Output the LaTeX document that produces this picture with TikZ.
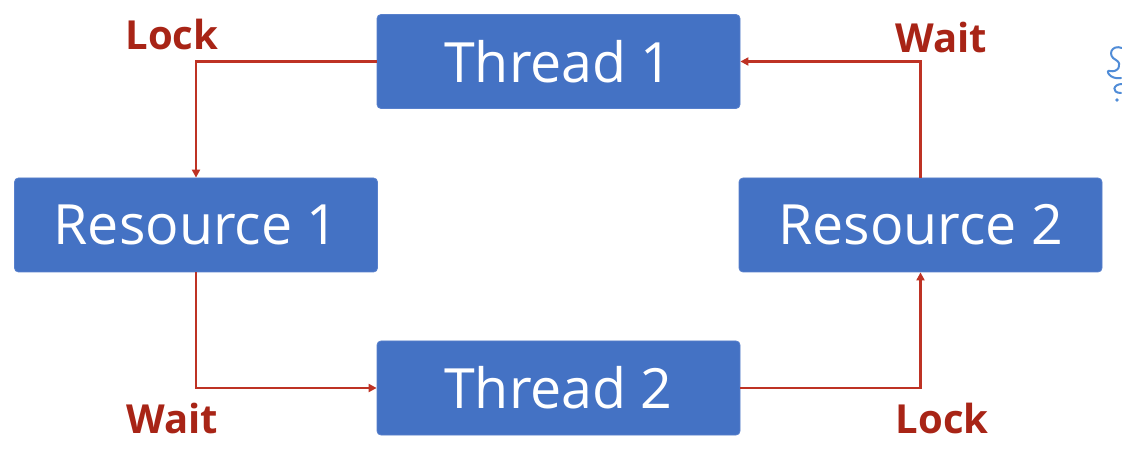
\documentclass[tikz,border=0pt]{standalone}
\usepackage{fontspec}
\setmainfont{Open Sans}
\usetikzlibrary{arrows.meta}
\definecolor{boxblue}{RGB}{68,114,196}
\definecolor{boxedge}{RGB}{88,128,204}
\definecolor{linkred}{RGB}{190,50,36}
\definecolor{tagred}{RGB}{168,36,22}
\definecolor{penblue}{RGB}{80,140,215}
\begin{document}
\begin{tikzpicture}[x=1pt,y=-1pt,
  block/.style={rectangle,rounded corners=4pt,fill=boxblue,draw=boxedge,line width=0.8pt,
    minimum width=363pt,minimum height=94pt,inner sep=0pt,
    text=white,font=\fontsize{55.5}{66}\selectfont},
  link/.style={draw=linkred,line width=2.2pt,-{Triangle[length=8pt,width=8pt]}},
  tag/.style={text=tagred,font=\fontsize{40}{48}\selectfont\bfseries,inner sep=0pt,anchor=base}]
  \useasboundingbox (0,0) rectangle (1122,454);
  \fill[white] (0,0) rectangle (1122,454);

  % thread and resource blocks
  \node[block] (t1) at (558.5,61.5) {Thread 1};
  \node[block] (r1) at (196,225) {Resource 1};
  \node[block] (r2) at (920.5,225) {Resource 2};
  \node[block] (t2) at (558.5,388) {Thread 2};

  % lock / wait cycle
  \draw[link] (t1.west) -| (r1.north);
  \draw[link] (r1.south) |- (t2.west);
  \draw[link] (t2.east) -| (r2.south);
  \draw[link] (r2.north) |- (t1.east);

  % edge labels
  \node[tag] (lk1) at (172,50) {Lock};
  \node[tag] (wt1) at (941,53) {Wait};
  \node[tag] (wt2) at (172,433) {Wait};
  \node[tag] (lk2) at (942,433) {Lock};

  % pen stroke at the right margin
  \draw[penblue,line width=2pt,line cap=round,line join=round]
    (1122,48) .. controls (1111,44) and (1107,56) .. (1116,60)
    .. controls (1123,64) and (1118,73) .. (1110,71)
    .. controls (1105,69) and (1109,80) .. (1121,78);
  \draw[penblue,line width=2pt,line cap=round]
    (1122,84) .. controls (1113,84) and (1111,93) .. (1121,93);
  \fill[penblue] (1117,100) circle (1.8pt);
\end{tikzpicture}
\end{document}
